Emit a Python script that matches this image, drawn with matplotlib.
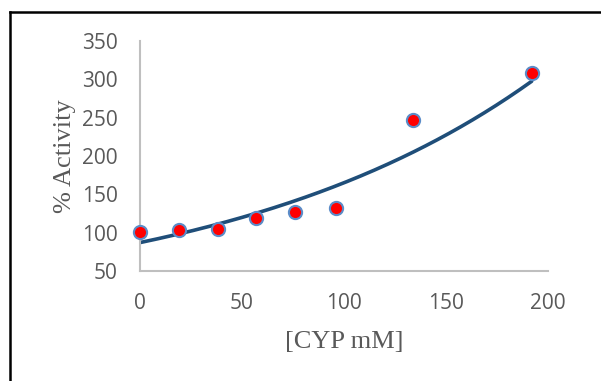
import numpy as np
import matplotlib.pyplot as plt
from matplotlib.lines import Line2D

cyp = [0, 19, 38, 57, 76, 96, 134, 192]
activity = [101, 103, 105, 119, 127, 132, 247, 308]
xticks = [0, 50, 100, 150, 200]
yticks = [50, 100, 150, 200, 250, 300, 350]

# exponential trendline (fit of ln y)
b, ln_a = np.polyfit(cyp, np.log(activity), 1)
xs = np.linspace(min(cyp), max(cyp), 200)
ys = np.exp(ln_a) * np.exp(b * xs)

fig = plt.figure(figsize=(6.01, 3.81), dpi=100)
ax = fig.add_axes([140 / 601, 1 - 271 / 381, 408 / 601, 230 / 381])

ax.plot(xs, ys, color='#1F4E79', lw=2.6, solid_capstyle='round', zorder=2)
ax.plot(cyp, activity, 'o', ms=9.5, mfc='#FF0000', mec='#5B8CC8', mew=1.5,
        linestyle='none', zorder=3, clip_on=False)

ax.set_xlim(0, 200)
ax.set_ylim(50, 350)
ax.set_xticks(xticks)
ax.set_yticks(yticks)
for s in ['top', 'right']:
    ax.spines[s].set_visible(False)
for s in ['left', 'bottom']:
    ax.spines[s].set_color('#BFBFBF')
    ax.spines[s].set_linewidth(1.5)
ax.tick_params(length=0, labelsize=15, labelcolor='#595959')
ax.tick_params(axis='y', pad=16)
ax.tick_params(axis='x', pad=16)
for lab in ax.get_xticklabels() + ax.get_yticklabels():
    lab.set_fontfamily('Open Sans')

ax.set_xlabel('[CYP mM]', fontfamily='Liberation Serif', fontsize=19,
              color='#595959', labelpad=12)
ax.set_ylabel('% Activity', fontfamily='Liberation Serif', fontsize=19,
              color='#595959', labelpad=4)

# frame border (left and top)
fig.add_artist(Line2D([9.5 / 601, 9.5 / 601], [0, 1 - 12 / 381], color='black', lw=1.8))
fig.add_artist(Line2D([9.5 / 601, 1], [1 - 12 / 381, 1 - 12 / 381], color='black', lw=1.8))

fig.savefig('out.png', dpi=100)
